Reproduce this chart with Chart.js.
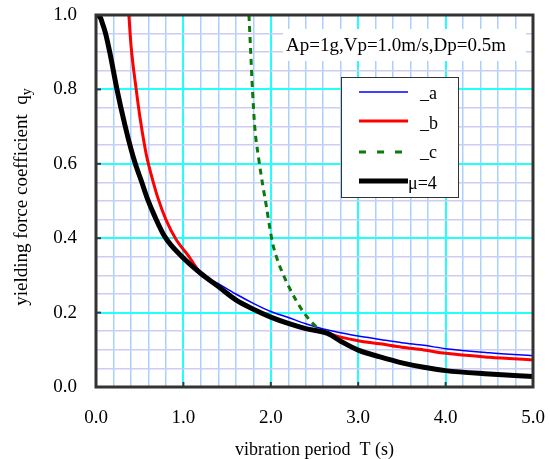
<!DOCTYPE html>
<html lang="en">
<head>
  <meta charset="UTF-8" />
  <title>Yielding force coefficient</title>
  <script src="https://cdn.jsdelivr.net/npm/chart.js"></script>
  <style>
    body { margin: 0; background: #fff; }
    #wrap { width: 550px; height: 459px; }
  </style>
</head>
<body>
  <div id="wrap"><canvas id="qyChart" width="550" height="459"></canvas></div>

  <script>
    // series _a (blue)
    const tA = [0.376, 0.40, 0.46, 0.50, 0.563, 0.65, 0.71, 0.80, 0.92, 1.05, 1.2, 1.4, 1.6, 1.8, 2.0, 2.2, 2.4, 2.6, 2.8, 3.0, 3.25, 3.5, 3.75, 4.0, 4.5, 5.0];
    const qA = [1.0, 0.92, 0.80, 0.73, 0.64, 0.555, 0.507, 0.45, 0.395, 0.355, 0.306, 0.278, 0.25, 0.225, 0.203, 0.187, 0.17, 0.156, 0.146, 0.137, 0.128, 0.119, 0.112, 0.103, 0.092, 0.084];

    // series _b (red)
    const tB = [0.376, 0.40, 0.46, 0.50, 0.563, 0.594, 0.65, 0.71, 0.80, 0.92, 1.05, 1.2, 1.4, 1.6, 1.8, 2.0, 2.2, 2.4, 2.65, 2.8, 3.0, 3.25, 3.5, 3.75, 4.0, 4.5, 5.0];
    const qB = [1.0, 0.92, 0.80, 0.73, 0.64, 0.605, 0.555, 0.507, 0.45, 0.395, 0.355, 0.305, 0.27, 0.234, 0.209, 0.188, 0.171, 0.157, 0.144, 0.134, 0.1245, 0.116, 0.107, 0.0995, 0.0905, 0.080, 0.0726];

    // series _c (green dashed)
    const tC = [1.75, 1.77, 1.79, 1.816, 1.861, 1.911, 1.95, 1.987, 2.025, 2.07, 2.12, 2.216, 2.37, 2.52, 2.56];
    const qC = [1.0, 0.9, 0.8, 0.7, 0.615, 0.538, 0.485, 0.43, 0.382, 0.346, 0.3145, 0.265, 0.2025, 0.162, 0.156];

    // series mu=4 (black)
    const tMu = [0, 0.05, 0.08, 0.11, 0.16, 0.24, 0.33, 0.40, 0.45, 0.52, 0.59, 0.67, 0.785, 0.976, 1.2, 1.4, 1.6, 1.8, 2.0, 2.2, 2.4, 2.65, 2.8, 3.0, 3.25, 3.5, 3.75, 4.0, 4.5, 5.0];
    const qMu = [1.0, 0.993, 0.973, 0.95, 0.897, 0.80, 0.705, 0.64, 0.60, 0.553, 0.505, 0.46, 0.405, 0.352, 0.305, 0.27, 0.234, 0.209, 0.188, 0.171, 0.157, 0.144, 0.123, 0.099, 0.081, 0.065, 0.053, 0.044, 0.035, 0.028];

    const xTickLabels = ['0.0', '1.0', '2.0', '3.0', '4.0', '5.0'];
    const yTickLabels = ['0.0', '0.2', '0.4', '0.6', '0.8', '1.0'];
    const legendLabels = ['_a', '_b', '_c', 'μ=4'];
    const noteText = 'Ap=1g,Vp=1.0m/s,Dp=0.5m';

    const serif = '"Liberation Serif", "Times New Roman", serif';

    function pts(ts, qs) {
      return ts.map((t, i) => ({ x: t, y: qs[i] }));
    }

    // fixed axis box sizes, no extra label overflow padding
    function fixAxis(s, size) {
      if (s.isHorizontal()) s.height = size; else s.width = size;
      s.paddingTop = 0; s.paddingBottom = 0;
      s.paddingLeft = 0; s.paddingRight = 0;
    }

    // extra drawing: frame, tick marks, note box, legend, axis titles
    const extras = {
      id: 'extras',
      afterDraw(chart) {
        const ctx = chart.ctx;
        const a = chart.chartArea;
        const xs = chart.scales.x, ys = chart.scales.y;
        ctx.save();

        // small tick marks inside the frame
        ctx.strokeStyle = '#224444';
        ctx.lineWidth = 2;
        for (let v = 1; v < 5; v++) {
          const px = xs.getPixelForValue(v);
          ctx.beginPath(); ctx.moveTo(px, a.bottom); ctx.lineTo(px, a.bottom - 5); ctx.stroke();
        }
        for (let v = 0.2; v < 0.99; v += 0.2) {
          const py = ys.getPixelForValue(v);
          ctx.beginPath(); ctx.moveTo(a.left, py); ctx.lineTo(a.left + 5, py); ctx.stroke();
        }

        // frame
        ctx.strokeStyle = '#333';
        ctx.lineWidth = 3;
        ctx.strokeRect(a.left, a.top, a.right - a.left, a.bottom - a.top);

        // note box
        ctx.fillStyle = '#fff';
        ctx.fillRect(283, 29, 243, 32);
        ctx.fillStyle = '#000';
        ctx.font = '19px ' + serif;
        ctx.textAlign = 'left';
        ctx.textBaseline = 'alphabetic';
        ctx.fillText(noteText, 286, 51);

        // legend
        ctx.fillStyle = '#fff';
        ctx.fillRect(341, 77, 117, 120);
        ctx.strokeStyle = '#333';
        ctx.lineWidth = 1;
        ctx.strokeRect(341.5, 77.5, 117, 120);
        const rows = [
          { y: 92, color: '#0000ff', w: 1.5, dash: [], lx: 420, ly: 99 },
          { y: 121, color: '#ff0000', w: 3, dash: [], lx: 420, ly: 129 },
          { y: 152, color: '#0a7a0a', w: 3, dash: [7, 11], lx: 420, ly: 158 },
          { y: 181, color: '#000', w: 5, dash: [], lx: 408, ly: 189 }
        ];
        ctx.font = '18px ' + serif;
        rows.forEach((r, i) => {
          ctx.strokeStyle = r.color;
          ctx.lineWidth = r.w;
          ctx.setLineDash(r.dash);
          ctx.beginPath(); ctx.moveTo(359, r.y); ctx.lineTo(408, r.y); ctx.stroke();
          ctx.setLineDash([]);
          ctx.fillStyle = '#000';
          ctx.fillText(legendLabels[i], r.lx, r.ly);
        });

        // x axis title
        ctx.font = '18px ' + serif;
        ctx.textAlign = 'center';
        ctx.fillText('vibration period  T (s)', (a.left + a.right) / 2, 455);

        // y axis title with subscript
        ctx.translate(27, 197);
        ctx.rotate(-Math.PI / 2);
        const main = 'yielding force coefficient  q';
        ctx.font = '19px ' + serif;
        const w1 = ctx.measureText(main).width;
        ctx.font = '14px ' + serif;
        const w2 = ctx.measureText('y').width;
        ctx.textAlign = 'left';
        ctx.font = '19px ' + serif;
        ctx.fillText(main, -(w1 + w2) / 2, 0);
        ctx.font = '14px ' + serif;
        ctx.fillText('y', -(w1 + w2) / 2 + w1, 4);

        ctx.restore();
      }
    };

    const ctx = document.getElementById('qyChart').getContext('2d');
    new Chart(ctx, {
      type: 'line',
      data: {
        datasets: [
          { label: '_a', data: pts(tA, qA), borderColor: '#0000ff', borderWidth: 1.5, order: 4 },
          { label: '_b', data: pts(tB, qB), borderColor: '#ff0000', borderWidth: 3, order: 3 },
          { label: '_c', data: pts(tC, qC), borderColor: '#0a7a0a', borderWidth: 3, borderDash: [6, 5], order: 2 },
          { label: 'μ=4', data: pts(tMu, qMu), borderColor: '#000', borderWidth: 5, order: 1 }
        ]
      },
      options: {
        responsive: false,
        animation: false,
        layout: { padding: { top: 15, right: 17, left: 0, bottom: 0 } },
        elements: {
          point: { radius: 0 },
          line: { cubicInterpolationMode: 'monotone', fill: false, borderCapStyle: 'butt' }
        },
        plugins: { legend: { display: false }, tooltip: { enabled: false } },
        scales: {
          x: {
            type: 'linear', min: 0, max: 5,
            afterFit: s => fixAxis(s, 72),
            border: { display: false },
            grid: {
              drawTicks: false,
              color: c => Math.abs(c.tick.value - Math.round(c.tick.value)) < 1e-6 ? '#22ffff' : '#aad0ff',
              lineWidth: c => Math.abs(c.tick.value - Math.round(c.tick.value)) < 1e-6 ? 2 : 1.5
            },
            ticks: {
              stepSize: 0.2, autoSkip: false, maxRotation: 0, padding: 20,
              color: '#000', font: { family: serif, size: 19 },
              callback: v => Math.abs(v - Math.round(v)) < 1e-6 ? xTickLabels[Math.round(v)] : ''
            }
          },
          y: {
            min: 0, max: 1,
            afterFit: s => fixAxis(s, 96),
            border: { display: false },
            grid: {
              drawTicks: false,
              color: c => Math.round(c.tick.value * 100) % 20 === 0 ? '#22ffff' : '#ccccf4',
              lineWidth: c => Math.round(c.tick.value * 100) % 20 === 0 ? 2 : 1.5
            },
            ticks: {
              stepSize: 0.05, autoSkip: false, padding: 19,
              color: '#000', font: { family: serif, size: 19 },
              callback: v => Math.round(v * 100) % 20 === 0 ? yTickLabels[Math.round(v * 5)] : ''
            }
          }
        }
      },
      plugins: [extras]
    });
  </script>
</body>
</html>
